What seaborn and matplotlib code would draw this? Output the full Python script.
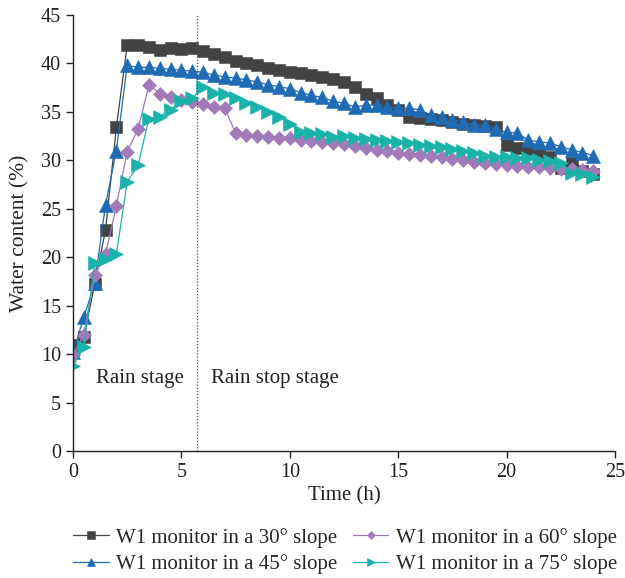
import numpy as np
import pandas as pd
import matplotlib
matplotlib.use("Agg")
import matplotlib.pyplot as plt
import seaborn as sns

time_h = [i * 0.5 for i in range(49)]

slope30 = [10.9, 11.8, 17.2, 22.8, 33.4, 41.9, 41.9, 41.7, 41.4, 41.6, 41.5, 41.6,
           41.3, 41.0, 40.7, 40.3, 40.1, 39.8, 39.5, 39.3, 39.1, 39.0, 38.8, 38.6,
           38.4, 38.1, 37.6, 36.9, 36.4, 35.7, 35.2, 34.5, 34.4, 34.3, 34.2, 34.0,
           33.8, 33.7, 33.5, 33.4, 31.6, 31.3, 31.2, 30.7, 30.3, 29.2, 29.7, 28.9, 28.6]
slope45 = [10.2, 13.8, 17.3, 25.4, 31.0, 39.8, 39.6, 39.6, 39.5, 39.4, 39.3, 39.2,
           39.1, 38.8, 38.6, 38.5, 38.3, 38.1, 37.8, 37.6, 37.4, 37.0, 36.7, 36.5,
           36.1, 35.9, 35.5, 35.7, 35.7, 35.5, 35.4, 35.4, 35.2, 34.7, 34.5, 34.2,
           34.0, 33.6, 33.6, 33.2, 32.9, 32.8, 32.1, 31.9, 31.8, 31.4, 31.1, 30.8, 30.5]
slope60 = [9.9, 12.0, 18.2, 20.3, 25.3, 30.9, 33.2, 37.8, 36.9, 36.5, 36.2, 36.0,
           35.8, 35.5, 35.4, 32.8, 32.6, 32.5, 32.4, 32.3, 32.3, 32.1, 32.0, 31.9,
           31.8, 31.7, 31.5, 31.3, 31.1, 31.0, 30.8, 30.7, 30.6, 30.4, 30.3, 30.1,
           30.0, 29.8, 29.7, 29.6, 29.5, 29.4, 29.3, 29.3, 29.2, 29.1, 29.1, 29.0, 28.9]
slope75 = [8.8, 10.7, 19.4, 19.8, 20.3, 27.8, 29.5, 34.3, 34.5, 35.2, 36.1, 36.4,
           37.6, 37.0, 36.8, 36.4, 35.9, 35.5, 35.0, 34.5, 33.8, 32.9, 32.8, 32.7,
           32.4, 32.5, 32.3, 32.2, 32.1, 32.0, 31.9, 31.8, 31.6, 31.5, 31.4, 31.2,
           31.0, 30.8, 30.5, 30.3, 30.3, 30.2, 30.2, 30.0, 29.9, 29.7, 28.7, 28.6, 28.3]

labels = ["W1 monitor in a 30° slope", "W1 monitor in a 45° slope",
          "W1 monitor in a 60° slope", "W1 monitor in a 75° slope"]
colors = ["#434343", "#1f6bb5", "#a07ab9", "#1ab3aa"]
markers = ["s", "^", "D", ">"]
msizes = [8.5, 9.5, 7, 9.5]
rain_stop_time = 5.7

sns.set_theme(style="ticks")
plt.rcParams['font.family'] = ['Liberation Serif', 'DejaVu Serif']
plt.rcParams['font.size'] = 14

fig = plt.figure(figsize=(6.25, 5.78), dpi=100)
ax = fig.add_axes([0.1168, 0.2197, 0.8672, 0.7543])

series = [slope30, slope45, slope60, slope75]
for vals, lab, c, m, ms in zip(series, labels, colors, markers, msizes):
    df = pd.DataFrame({"t": time_h, "w": vals})
    sns.lineplot(data=df, x="t", y="w", ax=ax, color=c, marker=m, markersize=ms,
                 markeredgecolor=c, markeredgewidth=0.4, linewidth=0.9,
                 label=lab, estimator=None, sort=False)

ax.axvline(rain_stop_time, color="#555555", linestyle=(0, (1, 1.5)), linewidth=0.9)
ax.text(1.05, 7.5, "Rain stage", fontsize=15, color="#222222", va="center")
ax.text(6.35, 7.5, "Rain stop stage", fontsize=15, color="#222222", va="center")

ax.set_xlim(0, 25)
ax.set_ylim(0, 45)
ax.set_xticks(range(0, 26, 5))
ax.set_yticks(range(0, 46, 5))
ax.set_xlabel("Time (h)", fontsize=15, color="#222222", labelpad=3)
ax.set_ylabel("Water content (%)", fontsize=15.5, color="#222222", labelpad=8)
ax.tick_params(axis="both", labelsize=14.5, colors="#222222", direction="out", length=5, width=1)
for s in ["top", "right"]:
    ax.spines[s].set_visible(False)
for s in ["left", "bottom"]:
    ax.spines[s].set_color("#222222")
    ax.spines[s].set_linewidth(1)

handles, labs = ax.get_legend_handles_labels()
ax.get_legend().remove()
leg = fig.legend(handles, labs, ncol=2, loc="center",
                 bbox_to_anchor=(0.552, 0.047), frameon=False,
                 fontsize=15, markerscale=0.65, handlelength=1.7, columnspacing=0.75,
                 handletextpad=0.35, labelspacing=0.32, borderpad=0.1)

fig.savefig("out.png", dpi=100)
